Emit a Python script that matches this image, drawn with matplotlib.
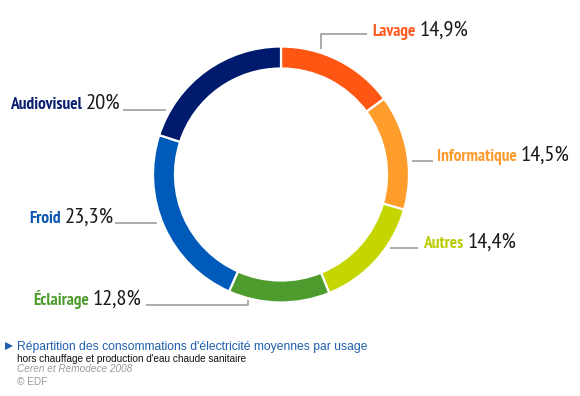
import matplotlib
matplotlib.use("Agg")
import matplotlib.pyplot as plt
from matplotlib import font_manager

# data
usages = ["Lavage", "Informatique", "Autres", "Éclairage", "Froid", "Audiovisuel"]
shares = [14.9, 14.5, 14.4, 12.8, 23.3, 20.0]
share_labels = ["14,9%", "14,5%", "14,4%", "12,8%", "23,3%", "20%"]
ring_colors = ["#ff5614", "#ff9d2c", "#c5d500", "#4f9c2e", "#005ab9", "#001b6d"]
text_colors = ["#ff5a1e", "#ff9a2a", "#b8cc00", "#4f9c2e", "#0a55b0", "#0b1f72"]

H = 396  # figure height in px, used to flip image coords

installed = {f.name for f in font_manager.fontManager.ttflist}
narrow = "PT Sans Narrow" if "PT Sans Narrow" in installed else "DejaVu Sans"

fig = plt.figure(figsize=(5.8, 3.96), dpi=100)
ax = fig.add_axes([0, 0, 1, 1])

ax.pie(shares, colors=ring_colors, startangle=90, counterclock=False,
       radius=128, center=(281, H - 174.5),
       wedgeprops=dict(width=22, edgecolor="white", linewidth=1.6))

ax.set_xlim(0, 580)
ax.set_ylim(0, H)
ax.set_aspect("equal")
ax.axis("off")

# label layout (px from top-left): text start x, baseline y, leader line points
layout = {
    "Lavage":       (372, 36,  [(321, 49), (321, 34), (367, 34)]),
    "Informatique": (437, 161, [(412, 161), (433, 161)]),
    "Autres":       (423, 248, [(390, 248), (418, 248)]),
    "Éclairage":    (33, 305,  [(146, 305), (248, 305), (248, 300)]),
    "Froid":        (29, 223,  [(115, 223), (157, 223)]),
    "Audiovisuel":  (10, 109,  [(123, 110), (166, 110)]),
}

for name, pct, col in zip(usages, share_labels, text_colors):
    x0, yb, pts = layout[name]
    t = ax.text(x0, H - yb, name, color=col, family=narrow, stretch="condensed",
                weight="bold", fontsize=12.5, ha="left", va="baseline")
    ax.annotate(pct, xy=(1, H - yb), xycoords=(t, "data"),
                xytext=(3, 0), textcoords="offset points",
                family=narrow, stretch="condensed", fontsize=16.2, color="#1a1a1a",
                ha="left", va="baseline")
    xs = [p[0] for p in pts]
    ys = [H - p[1] for p in pts]
    ax.plot(xs, ys, color="#959595", lw=1.1, solid_capstyle="butt")

# caption
ax.plot(9, H - 346, marker=">", color="#1f5fae", ms=5.5, mew=0)
ax.text(17, H - 350, "Répartition des consommations d'électricité moyennes par usage",
        color="#1f5fae", family="Liberation Sans", fontsize=8.7, va="baseline")
ax.text(17, H - 362, "hors chauffage et production d'eau chaude sanitaire",
        color="#111111", family="Liberation Sans", fontsize=7.2, va="baseline")
ax.text(17, H - 372.5, "Ceren et Remodece 2008", color="#9a9a9a",
        family="Liberation Sans", style="italic", fontsize=7.2, va="baseline")
ax.text(17, H - 385, "© EDF", color="#9a9a9a",
        family="Liberation Sans", fontsize=7.2, va="baseline")

fig.savefig("out.png", dpi=100)
